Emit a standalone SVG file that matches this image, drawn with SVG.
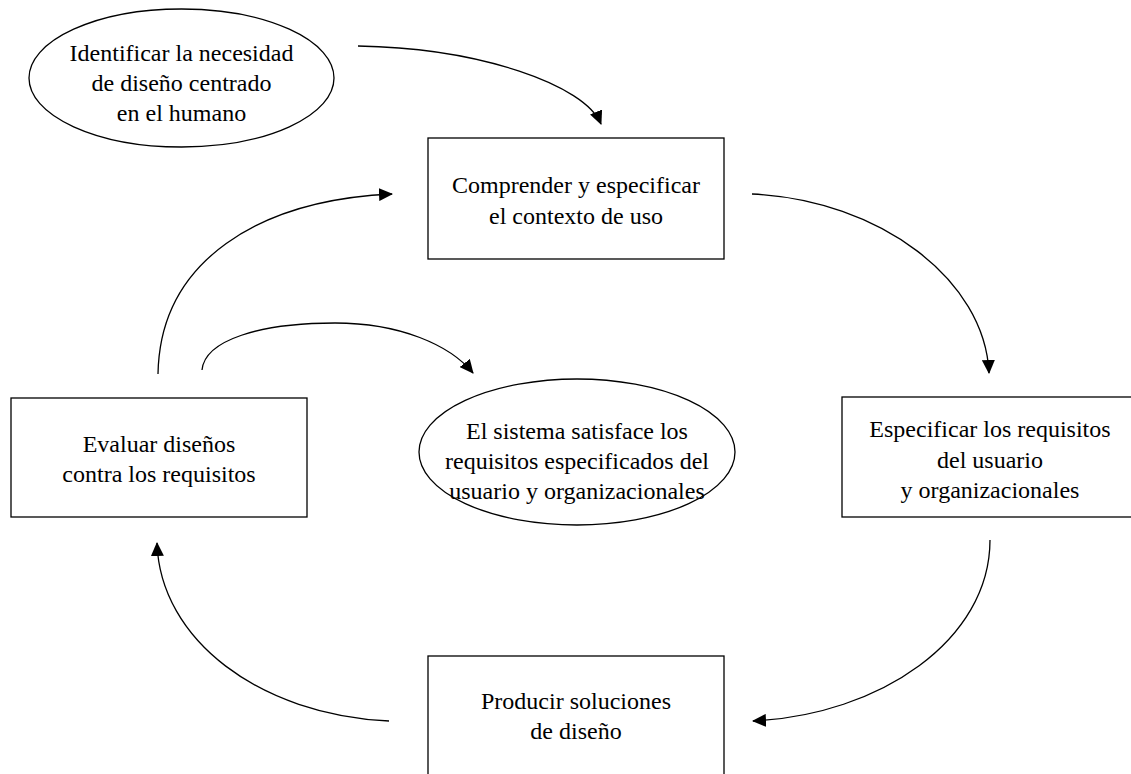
<svg xmlns="http://www.w3.org/2000/svg" width="1131" height="774" viewBox="0 0 1131 774">
<defs>
<style>
.shape{fill:#fff;stroke:#000;stroke-width:1.3}
.lbl{font-family:"Liberation Serif","Times New Roman",serif;font-size:24px;fill:#000;text-anchor:middle}
.conn{fill:none;stroke:#000;stroke-width:1.3;marker-end:url(#ah)}
</style>
<marker id="ah" viewBox="0 0 14 13" refX="13" refY="6.5" markerWidth="14" markerHeight="13" markerUnits="userSpaceOnUse" orient="auto">
<path d="M0,0 L14,6.5 L0,13 z" fill="#000"/>
</marker>
</defs>
<rect width="1131" height="774" fill="#fff"/>
<g id="connectors">
<path class="conn" d="M358,46 C480,48 585,85 601,124"/>
<path class="conn" d="M158,374 C160,260 260,200 392,194"/>
<path class="conn" d="M752,194 C880,200 985,280 989,373"/>
<path class="conn" d="M990,540 C990,640 880,715 753,721"/>
<path class="conn" d="M389,721 C260,715 160,640 157,543"/>
<path class="conn" d="M202,370 C205,340 260,323 335,323 C400,323 450,345 473,373"/>
</g>
<g id="node-identificar">
<ellipse class="shape" cx="181.5" cy="78" rx="152.5" ry="69"/>
<text class="lbl" x="181.5" y="61">Identificar la necesidad</text>
<text class="lbl" x="181.5" y="91">de diseño centrado</text>
<text class="lbl" x="181.5" y="121">en el humano</text>
</g>
<g id="node-comprender">
<rect class="shape" x="428" y="138" width="296" height="121"/>
<text class="lbl" x="576" y="193">Comprender y especificar</text>
<text class="lbl" x="576" y="224">el contexto de uso</text>
</g>
<g id="node-especificar">
<rect class="shape" x="842" y="397" width="296" height="120"/>
<text class="lbl" x="990" y="437">Especificar los requisitos</text>
<text class="lbl" x="990" y="468">del usuario</text>
<text class="lbl" x="990" y="498">y organizacionales</text>
</g>
<g id="node-producir">
<rect class="shape" x="428" y="656" width="296" height="120"/>
<text class="lbl" x="576" y="709">Producir soluciones</text>
<text class="lbl" x="576" y="739">de diseño</text>
</g>
<g id="node-evaluar">
<rect class="shape" x="11" y="398" width="296" height="119"/>
<text class="lbl" x="159" y="452">Evaluar diseños</text>
<text class="lbl" x="159" y="482">contra los requisitos</text>
</g>
<g id="node-sistema">
<ellipse class="shape" cx="577" cy="452" rx="158" ry="73"/>
<text class="lbl" x="577" y="439">El sistema satisface los</text>
<text class="lbl" x="577" y="469">requisitos especificados del</text>
<text class="lbl" x="577" y="499">usuario y organizacionales</text>
</g>
</svg>
